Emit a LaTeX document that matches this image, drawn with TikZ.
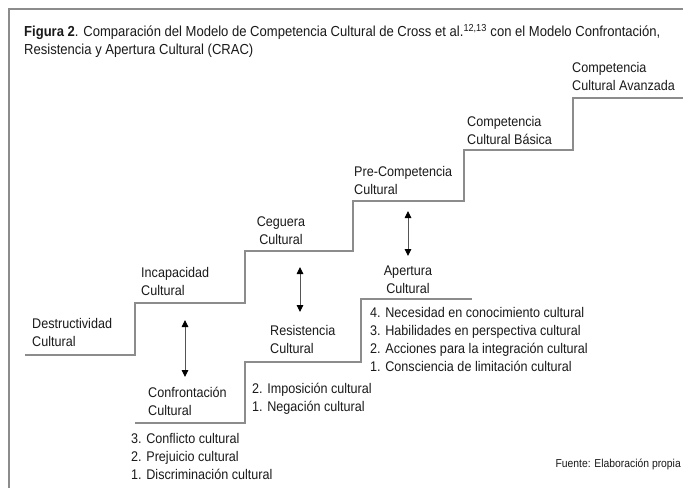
\documentclass[tikz,border=0pt]{standalone}
\usepackage{fontspec}
\setmainfont[FakeStretch=0.9]{Liberation Sans}
\usetikzlibrary{arrows.meta}
\definecolor{stair}{HTML}{8C8C8C}
\definecolor{frame}{HTML}{8C8C8C}
\definecolor{txt}{HTML}{1A1A1A}
\definecolor{arrowgray}{HTML}{555555}
\begin{document}
\begin{tikzpicture}[x=1pt,y=-1pt,
  lbl/.style={font=\fontsize{14}{18}\selectfont, text=txt, inner sep=0pt, anchor=west, align=left},
  lblc/.style={font=\fontsize{14}{18}\selectfont, text=txt, inner sep=0pt, anchor=center, align=center},
  titlelbl/.style={font=\fontsize{14.5}{18}\selectfont, text=txt, inner sep=0pt, anchor=west, align=left},
  srclbl/.style={font=\fontsize{11.5}{14}\selectfont, text=txt, inner sep=0pt, anchor=east},
  stairline/.style={draw=stair, line width=1.3pt},
  dblarrow/.style={draw=arrowgray, line width=0.9pt,
    {Triangle[width=6.5pt,length=7pt,color=black]}-{Triangle[width=6.5pt,length=7pt,color=black]}}
]
\useasboundingbox (0,0) rectangle (683,488);
\fill[white] (0,0) rectangle (683,488);
% frame
\draw[draw=frame, line width=1.5pt] (9,488) -- (9,9) -- (683,9);

% title
\node[titlelbl] (title) at (24,41) {\textbf{Figura 2}. Comparación del Modelo de Competencia Cultural de Cross et al.\textsuperscript{12,13} con el Modelo Confrontación,\\Resistencia y Apertura Cultural (CRAC)};

% upper staircase (Cross et al.)
\draw[stairline] (25,355) -- (135,355) -- (135,303) -- (245,303) -- (245,251)
  -- (353,251) -- (353,201) -- (464,201) -- (464,150) -- (573,150) -- (573,98) -- (683,98);

% lower staircase (CRAC)
\draw[stairline] (135,423) -- (245,423) -- (245,362) -- (361,362) -- (361,299) -- (472,299);

% Cross levels
\node[lbl] (destr) at (32,332.5) {Destructividad\\Cultural};
\node[lbl] (incap) at (141,281) {Incapacidad\\Cultural};
\node[lblc] (ceg) at (281,231) {Ceguera\\Cultural};
\node[lbl] (prec) at (354,180.5) {Pre-Competencia\\Cultural};
\node[lbl] (basica) at (467,130) {Competencia\\Cultural Básica};
\node[lbl] (avanz) at (572,76.5) {Competencia\\Cultural Avanzada};

% CRAC levels
\node[lbl] (confr) at (148,401.5) {Confrontación\\Cultural};
\node[lbl] (resis) at (270,339) {Resistencia\\Cultural};
\node[lblc] (apert) at (408,280) {Apertura\\Cultural};

% sub-lists
\node[lbl] (confrlist) at (131,456) {3. Conflicto cultural\\2. Prejuicio cultural\\1. Discriminación cultural};
\node[lbl] (resislist) at (252,398.5) {2. Imposición cultural\\1. Negación cultural};
\node[lbl] (apertlist) at (370,339) {4. Necesidad en conocimiento cultural\\3. Habilidades en perspectiva cultural\\2. Acciones para la integración cultural\\1. Consciencia de limitación cultural};

% correspondence arrows
\coordinate (a1t) at (185,320); \coordinate (a1b) at (185,377);
\coordinate (a2t) at (300,267); \coordinate (a2b) at (300,312);
\coordinate (a3t) at (408,211); \coordinate (a3b) at (408,256);
\draw[dblarrow] (a1t) -- (a1b);
\draw[dblarrow] (a2t) -- (a2b);
\draw[dblarrow] (a3t) -- (a3b);

% source
\node[srclbl] (src) at (681,464) {Fuente: Elaboración propia};
\end{tikzpicture}
\end{document}
